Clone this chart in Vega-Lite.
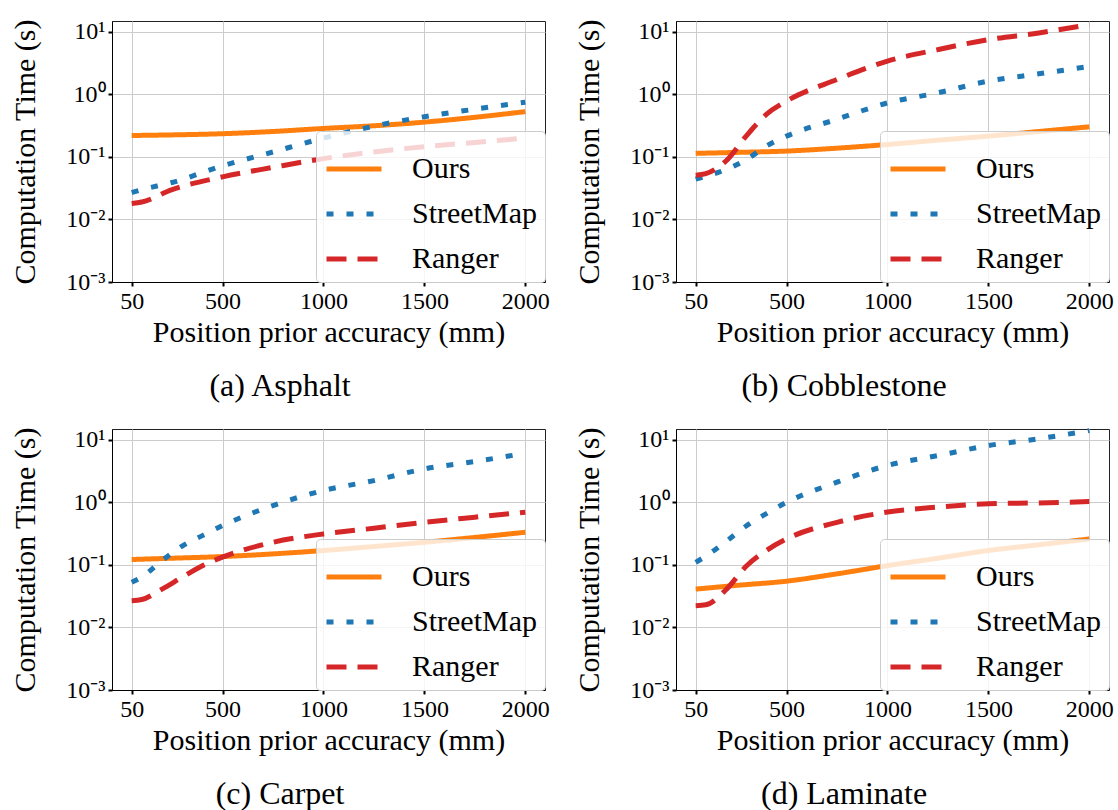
{
  "$schema": "https://vega.github.io/schema/vega-lite/v6.json",
  "background": "white",
  "padding": {"left": 10, "top": 13, "right": 6, "bottom": 4},
  "bounds": "flush",
  "columns": 2,
  "spacing": {"row": 147, "column": 131},
  "data": {"values": [
    {"surface": "Asphalt", "method": "Ours", "accuracy": 50, "time": 0.22},
    {"surface": "Asphalt", "method": "Ours", "accuracy": 250, "time": 0.225},
    {"surface": "Asphalt", "method": "Ours", "accuracy": 500, "time": 0.235},
    {"surface": "Asphalt", "method": "Ours", "accuracy": 750, "time": 0.255},
    {"surface": "Asphalt", "method": "Ours", "accuracy": 1000, "time": 0.285},
    {"surface": "Asphalt", "method": "Ours", "accuracy": 1250, "time": 0.315},
    {"surface": "Asphalt", "method": "Ours", "accuracy": 1500, "time": 0.36},
    {"surface": "Asphalt", "method": "Ours", "accuracy": 1750, "time": 0.43},
    {"surface": "Asphalt", "method": "Ours", "accuracy": 2000, "time": 0.53},
    {"surface": "Asphalt", "method": "StreetMap", "accuracy": 50, "time": 0.027},
    {"surface": "Asphalt", "method": "StreetMap", "accuracy": 100, "time": 0.03},
    {"surface": "Asphalt", "method": "StreetMap", "accuracy": 250, "time": 0.039},
    {"surface": "Asphalt", "method": "StreetMap", "accuracy": 500, "time": 0.072},
    {"surface": "Asphalt", "method": "StreetMap", "accuracy": 750, "time": 0.12},
    {"surface": "Asphalt", "method": "StreetMap", "accuracy": 1000, "time": 0.2},
    {"surface": "Asphalt", "method": "StreetMap", "accuracy": 1250, "time": 0.31},
    {"surface": "Asphalt", "method": "StreetMap", "accuracy": 1500, "time": 0.44},
    {"surface": "Asphalt", "method": "StreetMap", "accuracy": 1750, "time": 0.58},
    {"surface": "Asphalt", "method": "StreetMap", "accuracy": 2000, "time": 0.75},
    {"surface": "Asphalt", "method": "Ranger", "accuracy": 50, "time": 0.018},
    {"surface": "Asphalt", "method": "Ranger", "accuracy": 100, "time": 0.019},
    {"surface": "Asphalt", "method": "Ranger", "accuracy": 250, "time": 0.03},
    {"surface": "Asphalt", "method": "Ranger", "accuracy": 500, "time": 0.048},
    {"surface": "Asphalt", "method": "Ranger", "accuracy": 750, "time": 0.068},
    {"surface": "Asphalt", "method": "Ranger", "accuracy": 1000, "time": 0.094},
    {"surface": "Asphalt", "method": "Ranger", "accuracy": 1250, "time": 0.12},
    {"surface": "Asphalt", "method": "Ranger", "accuracy": 1500, "time": 0.146},
    {"surface": "Asphalt", "method": "Ranger", "accuracy": 1750, "time": 0.17},
    {"surface": "Asphalt", "method": "Ranger", "accuracy": 2000, "time": 0.2},

    {"surface": "Cobblestone", "method": "Ours", "accuracy": 50, "time": 0.114},
    {"surface": "Cobblestone", "method": "Ours", "accuracy": 250, "time": 0.118},
    {"surface": "Cobblestone", "method": "Ours", "accuracy": 500, "time": 0.124},
    {"surface": "Cobblestone", "method": "Ours", "accuracy": 750, "time": 0.138},
    {"surface": "Cobblestone", "method": "Ours", "accuracy": 1000, "time": 0.158},
    {"surface": "Cobblestone", "method": "Ours", "accuracy": 1250, "time": 0.185},
    {"surface": "Cobblestone", "method": "Ours", "accuracy": 1500, "time": 0.215},
    {"surface": "Cobblestone", "method": "Ours", "accuracy": 1750, "time": 0.255},
    {"surface": "Cobblestone", "method": "Ours", "accuracy": 2000, "time": 0.303},
    {"surface": "Cobblestone", "method": "StreetMap", "accuracy": 50, "time": 0.044},
    {"surface": "Cobblestone", "method": "StreetMap", "accuracy": 100, "time": 0.049},
    {"surface": "Cobblestone", "method": "StreetMap", "accuracy": 200, "time": 0.063},
    {"surface": "Cobblestone", "method": "StreetMap", "accuracy": 300, "time": 0.09},
    {"surface": "Cobblestone", "method": "StreetMap", "accuracy": 400, "time": 0.149},
    {"surface": "Cobblestone", "method": "StreetMap", "accuracy": 500, "time": 0.215},
    {"surface": "Cobblestone", "method": "StreetMap", "accuracy": 750, "time": 0.4},
    {"surface": "Cobblestone", "method": "StreetMap", "accuracy": 1000, "time": 0.73},
    {"surface": "Cobblestone", "method": "StreetMap", "accuracy": 1250, "time": 1.06},
    {"surface": "Cobblestone", "method": "StreetMap", "accuracy": 1500, "time": 1.63},
    {"surface": "Cobblestone", "method": "StreetMap", "accuracy": 1750, "time": 2.13},
    {"surface": "Cobblestone", "method": "StreetMap", "accuracy": 2000, "time": 2.8},
    {"surface": "Cobblestone", "method": "Ranger", "accuracy": 50, "time": 0.051},
    {"surface": "Cobblestone", "method": "Ranger", "accuracy": 100, "time": 0.054},
    {"surface": "Cobblestone", "method": "Ranger", "accuracy": 200, "time": 0.086},
    {"surface": "Cobblestone", "method": "Ranger", "accuracy": 300, "time": 0.215},
    {"surface": "Cobblestone", "method": "Ranger", "accuracy": 400, "time": 0.478},
    {"surface": "Cobblestone", "method": "Ranger", "accuracy": 500, "time": 0.78},
    {"surface": "Cobblestone", "method": "Ranger", "accuracy": 750, "time": 1.73},
    {"surface": "Cobblestone", "method": "Ranger", "accuracy": 1000, "time": 3.4},
    {"surface": "Cobblestone", "method": "Ranger", "accuracy": 1250, "time": 5.2},
    {"surface": "Cobblestone", "method": "Ranger", "accuracy": 1500, "time": 7.5},
    {"surface": "Cobblestone", "method": "Ranger", "accuracy": 1750, "time": 9.6},
    {"surface": "Cobblestone", "method": "Ranger", "accuracy": 2000, "time": 13.1},

    {"surface": "Carpet", "method": "Ours", "accuracy": 50, "time": 0.122},
    {"surface": "Carpet", "method": "Ours", "accuracy": 250, "time": 0.128},
    {"surface": "Carpet", "method": "Ours", "accuracy": 500, "time": 0.136},
    {"surface": "Carpet", "method": "Ours", "accuracy": 750, "time": 0.15},
    {"surface": "Carpet", "method": "Ours", "accuracy": 1000, "time": 0.17},
    {"surface": "Carpet", "method": "Ours", "accuracy": 1250, "time": 0.197},
    {"surface": "Carpet", "method": "Ours", "accuracy": 1500, "time": 0.23},
    {"surface": "Carpet", "method": "Ours", "accuracy": 1750, "time": 0.275},
    {"surface": "Carpet", "method": "Ours", "accuracy": 2000, "time": 0.333},
    {"surface": "Carpet", "method": "StreetMap", "accuracy": 50, "time": 0.053},
    {"surface": "Carpet", "method": "StreetMap", "accuracy": 100, "time": 0.064},
    {"surface": "Carpet", "method": "StreetMap", "accuracy": 200, "time": 0.117},
    {"surface": "Carpet", "method": "StreetMap", "accuracy": 300, "time": 0.2},
    {"surface": "Carpet", "method": "StreetMap", "accuracy": 400, "time": 0.294},
    {"surface": "Carpet", "method": "StreetMap", "accuracy": 500, "time": 0.425},
    {"surface": "Carpet", "method": "StreetMap", "accuracy": 750, "time": 0.89},
    {"surface": "Carpet", "method": "StreetMap", "accuracy": 1000, "time": 1.55},
    {"surface": "Carpet", "method": "StreetMap", "accuracy": 1250, "time": 2.23},
    {"surface": "Carpet", "method": "StreetMap", "accuracy": 1500, "time": 3.43},
    {"surface": "Carpet", "method": "StreetMap", "accuracy": 1750, "time": 4.5},
    {"surface": "Carpet", "method": "StreetMap", "accuracy": 2000, "time": 6.1},
    {"surface": "Carpet", "method": "Ranger", "accuracy": 50, "time": 0.0268},
    {"surface": "Carpet", "method": "Ranger", "accuracy": 100, "time": 0.028},
    {"surface": "Carpet", "method": "Ranger", "accuracy": 200, "time": 0.041},
    {"surface": "Carpet", "method": "Ranger", "accuracy": 300, "time": 0.0635},
    {"surface": "Carpet", "method": "Ranger", "accuracy": 400, "time": 0.097},
    {"surface": "Carpet", "method": "Ranger", "accuracy": 500, "time": 0.133},
    {"surface": "Carpet", "method": "Ranger", "accuracy": 750, "time": 0.23},
    {"surface": "Carpet", "method": "Ranger", "accuracy": 1000, "time": 0.313},
    {"surface": "Carpet", "method": "Ranger", "accuracy": 1250, "time": 0.386},
    {"surface": "Carpet", "method": "Ranger", "accuracy": 1500, "time": 0.48},
    {"surface": "Carpet", "method": "Ranger", "accuracy": 1750, "time": 0.58},
    {"surface": "Carpet", "method": "Ranger", "accuracy": 2000, "time": 0.697},

    {"surface": "Laminate", "method": "Ours", "accuracy": 50, "time": 0.041},
    {"surface": "Laminate", "method": "Ours", "accuracy": 250, "time": 0.047},
    {"surface": "Laminate", "method": "Ours", "accuracy": 500, "time": 0.055},
    {"surface": "Laminate", "method": "Ours", "accuracy": 750, "time": 0.072},
    {"surface": "Laminate", "method": "Ours", "accuracy": 1000, "time": 0.0975},
    {"surface": "Laminate", "method": "Ours", "accuracy": 1250, "time": 0.128},
    {"surface": "Laminate", "method": "Ours", "accuracy": 1500, "time": 0.17},
    {"surface": "Laminate", "method": "Ours", "accuracy": 1750, "time": 0.21},
    {"surface": "Laminate", "method": "Ours", "accuracy": 2000, "time": 0.26},
    {"surface": "Laminate", "method": "StreetMap", "accuracy": 50, "time": 0.11},
    {"surface": "Laminate", "method": "StreetMap", "accuracy": 100, "time": 0.138},
    {"surface": "Laminate", "method": "StreetMap", "accuracy": 200, "time": 0.236},
    {"surface": "Laminate", "method": "StreetMap", "accuracy": 300, "time": 0.42},
    {"surface": "Laminate", "method": "StreetMap", "accuracy": 400, "time": 0.66},
    {"surface": "Laminate", "method": "StreetMap", "accuracy": 500, "time": 1.0},
    {"surface": "Laminate", "method": "StreetMap", "accuracy": 750, "time": 2.1},
    {"surface": "Laminate", "method": "StreetMap", "accuracy": 1000, "time": 3.9},
    {"surface": "Laminate", "method": "StreetMap", "accuracy": 1250, "time": 5.6},
    {"surface": "Laminate", "method": "StreetMap", "accuracy": 1500, "time": 8.1},
    {"surface": "Laminate", "method": "StreetMap", "accuracy": 1750, "time": 10.4},
    {"surface": "Laminate", "method": "StreetMap", "accuracy": 2000, "time": 14.1},
    {"surface": "Laminate", "method": "Ranger", "accuracy": 50, "time": 0.0223},
    {"surface": "Laminate", "method": "Ranger", "accuracy": 100, "time": 0.023},
    {"surface": "Laminate", "method": "Ranger", "accuracy": 200, "time": 0.04},
    {"surface": "Laminate", "method": "Ranger", "accuracy": 300, "time": 0.095},
    {"surface": "Laminate", "method": "Ranger", "accuracy": 400, "time": 0.17},
    {"surface": "Laminate", "method": "Ranger", "accuracy": 500, "time": 0.26},
    {"surface": "Laminate", "method": "Ranger", "accuracy": 750, "time": 0.48},
    {"surface": "Laminate", "method": "Ranger", "accuracy": 1000, "time": 0.7},
    {"surface": "Laminate", "method": "Ranger", "accuracy": 1250, "time": 0.84},
    {"surface": "Laminate", "method": "Ranger", "accuracy": 1500, "time": 0.95},
    {"surface": "Laminate", "method": "Ranger", "accuracy": 1750, "time": 0.98},
    {"surface": "Laminate", "method": "Ranger", "accuracy": 2000, "time": 1.03}
  ]},
  "concat": [
    {
      "width": 433, "height": 261,
      "title": {"text": "(a) Asphalt"},
      "transform": [{"filter": "datum.surface === 'Asphalt'"}],
      "mark": {"type": "line", "interpolate": "monotone", "strokeWidth": 5, "strokeCap": "butt"},
      "encoding": {
        "x": {"field": "accuracy", "type": "quantitative", "scale": {"domain": [-47.5, 2097.5], "nice": false, "zero": false}, "axis": {"values": [50, 500, 1000, 1500, 2000], "format": "d", "title": "Position prior accuracy (mm)"}},
        "y": {"field": "time", "type": "quantitative", "scale": {"type": "log", "domain": [0.001, 14.9], "nice": false}, "axis": {"values": [0.001, 0.01, 0.1, 1, 10], "titlePadding": 25, "title": "Computation Time (s)", "labelExpr": "datum.value >= 5 ? '10¹' : datum.value >= 0.5 ? '10⁰' : datum.value >= 0.05 ? '10⁻¹' : datum.value >= 0.005 ? '10⁻²' : '10⁻³'"}},
        "color": {"field": "method", "type": "nominal", "scale": {"domain": ["Ours", "StreetMap", "Ranger"], "range": ["#ff7f0e", "#1f77b4", "#d62728"]}, "legend": {"title": null}},
        "strokeDash": {"field": "method", "type": "nominal", "scale": {"domain": ["Ours", "StreetMap", "Ranger"], "range": [[1, 0], [7, 13], [20, 11]]}, "legend": {"title": null}}
      }
    },
    {
      "width": 433, "height": 261,
      "title": {"text": "(b) Cobblestone"},
      "transform": [{"filter": "datum.surface === 'Cobblestone'"}],
      "mark": {"type": "line", "interpolate": "monotone", "strokeWidth": 5, "strokeCap": "butt"},
      "encoding": {
        "x": {"field": "accuracy", "type": "quantitative", "scale": {"domain": [-47.5, 2097.5], "nice": false, "zero": false}, "axis": {"values": [50, 500, 1000, 1500, 2000], "format": "d", "title": "Position prior accuracy (mm)"}},
        "y": {"field": "time", "type": "quantitative", "scale": {"type": "log", "domain": [0.001, 14.9], "nice": false}, "axis": {"values": [0.001, 0.01, 0.1, 1, 10], "titlePadding": 25, "title": "Computation Time (s)", "labelExpr": "datum.value >= 5 ? '10¹' : datum.value >= 0.5 ? '10⁰' : datum.value >= 0.05 ? '10⁻¹' : datum.value >= 0.005 ? '10⁻²' : '10⁻³'"}},
        "color": {"field": "method", "type": "nominal", "scale": {"domain": ["Ours", "StreetMap", "Ranger"], "range": ["#ff7f0e", "#1f77b4", "#d62728"]}, "legend": {"title": null}},
        "strokeDash": {"field": "method", "type": "nominal", "scale": {"domain": ["Ours", "StreetMap", "Ranger"], "range": [[1, 0], [7, 13], [20, 11]]}, "legend": {"title": null}}
      }
    },
    {
      "width": 433, "height": 261,
      "title": {"text": "(c) Carpet"},
      "transform": [{"filter": "datum.surface === 'Carpet'"}],
      "mark": {"type": "line", "interpolate": "monotone", "strokeWidth": 5, "strokeCap": "butt"},
      "encoding": {
        "x": {"field": "accuracy", "type": "quantitative", "scale": {"domain": [-47.5, 2097.5], "nice": false, "zero": false}, "axis": {"values": [50, 500, 1000, 1500, 2000], "format": "d", "title": "Position prior accuracy (mm)"}},
        "y": {"field": "time", "type": "quantitative", "scale": {"type": "log", "domain": [0.001, 14.9], "nice": false}, "axis": {"values": [0.001, 0.01, 0.1, 1, 10], "titlePadding": 25, "title": "Computation Time (s)", "labelExpr": "datum.value >= 5 ? '10¹' : datum.value >= 0.5 ? '10⁰' : datum.value >= 0.05 ? '10⁻¹' : datum.value >= 0.005 ? '10⁻²' : '10⁻³'"}},
        "color": {"field": "method", "type": "nominal", "scale": {"domain": ["Ours", "StreetMap", "Ranger"], "range": ["#ff7f0e", "#1f77b4", "#d62728"]}, "legend": {"title": null}},
        "strokeDash": {"field": "method", "type": "nominal", "scale": {"domain": ["Ours", "StreetMap", "Ranger"], "range": [[1, 0], [7, 13], [20, 11]]}, "legend": {"title": null}}
      }
    },
    {
      "width": 433, "height": 261,
      "title": {"text": "(d) Laminate"},
      "transform": [{"filter": "datum.surface === 'Laminate'"}],
      "mark": {"type": "line", "interpolate": "monotone", "strokeWidth": 5, "strokeCap": "butt"},
      "encoding": {
        "x": {"field": "accuracy", "type": "quantitative", "scale": {"domain": [-47.5, 2097.5], "nice": false, "zero": false}, "axis": {"values": [50, 500, 1000, 1500, 2000], "format": "d", "title": "Position prior accuracy (mm)"}},
        "y": {"field": "time", "type": "quantitative", "scale": {"type": "log", "domain": [0.001, 14.9], "nice": false}, "axis": {"values": [0.001, 0.01, 0.1, 1, 10], "titlePadding": 25, "title": "Computation Time (s)", "labelExpr": "datum.value >= 5 ? '10¹' : datum.value >= 0.5 ? '10⁰' : datum.value >= 0.05 ? '10⁻¹' : datum.value >= 0.005 ? '10⁻²' : '10⁻³'"}},
        "color": {"field": "method", "type": "nominal", "scale": {"domain": ["Ours", "StreetMap", "Ranger"], "range": ["#ff7f0e", "#1f77b4", "#d62728"]}, "legend": {"title": null}},
        "strokeDash": {"field": "method", "type": "nominal", "scale": {"domain": ["Ours", "StreetMap", "Ranger"], "range": [[1, 0], [7, 13], [20, 11]]}, "legend": {"title": null}}
      }
    }
  ],
  "resolve": {
    "scale": {"color": "independent", "strokeDash": "independent"},
    "legend": {"color": "independent", "strokeDash": "independent"}
  },
  "config": {
    "font": "Liberation Serif",
    "style": {
      "guide-label": {"font": "Liberation Serif", "fill": "#000000"},
      "guide-title": {"font": "Liberation Serif", "fill": "#000000"}
    },
    "view": {"stroke": "#222222", "strokeWidth": 1},
    "axis": {
      "labelFont": "Liberation Serif", "labelFontSize": 24, "labelColor": "#000000",
      "titleFont": "Liberation Serif", "titleFontSize": 30, "titleFontWeight": "normal", "titleColor": "#000000",
      "domainColor": "#000000", "domainWidth": 1,
      "tickColor": "#000000", "tickSize": 4, "tickWidth": 2,
      "grid": true, "gridColor": "#cccccc", "gridWidth": 1,
      "labelPadding": 3, "titlePadding": 4, "labelFlush": false, "labelOverlap": false
    },
    "legend": {
      "orient": "bottom-right", "offset": 0,
      "fillColor": "rgba(255,255,255,0.8)", "strokeColor": "#cccccc", "cornerRadius": 4,
      "padding": 8, "symbolType": "stroke", "symbolSize": 3025, "symbolStrokeWidth": 5,
      "labelFont": "Liberation Serif", "labelFontSize": 30, "labelColor": "#000000",
      "labelOffset": 28, "rowPadding": -1
    },
    "title": {
      "orient": "bottom", "anchor": "middle", "frame": "bounds", "offset": 24,
      "font": "Liberation Serif", "fontSize": 32, "fontWeight": "normal", "color": "#000000"
    }
  }
}
